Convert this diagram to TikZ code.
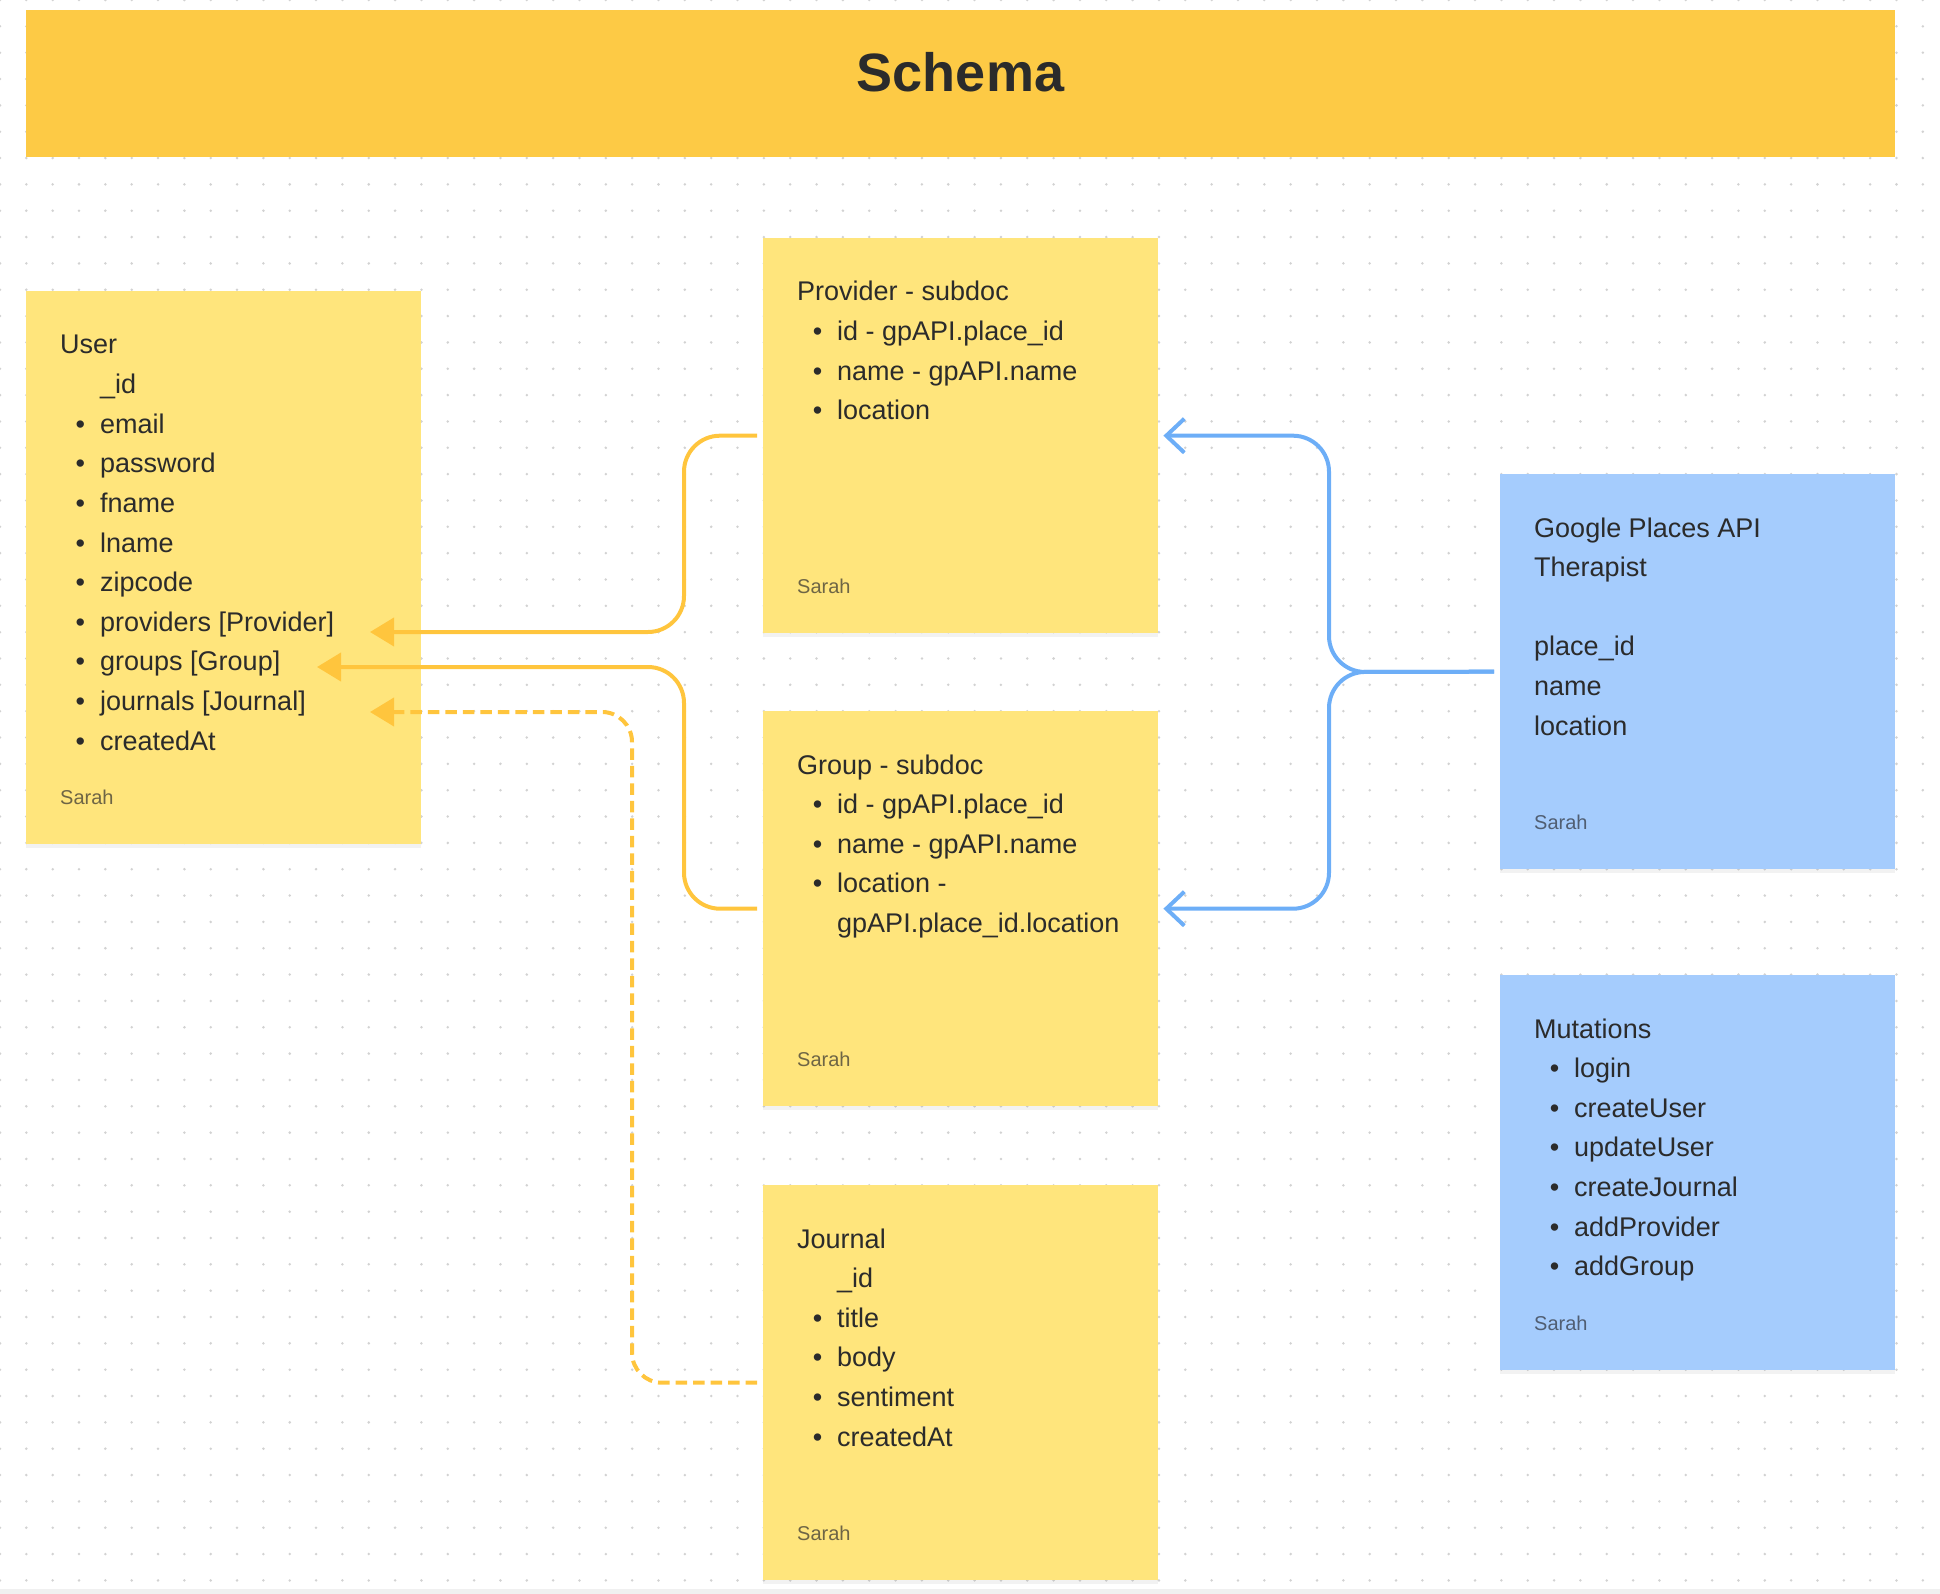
\documentclass[tikz,border=0pt]{standalone}
\usepackage{fontspec}
\setmainfont{Liberation Sans}
\usepackage{tikz}
\usetikzlibrary{arrows.meta,positioning,calc,shadows}
\usepackage{xcolor}

\definecolor{barorange}{HTML}{FDCA45}
\definecolor{noteyellow}{HTML}{FFE57C}
\definecolor{noteblue}{HTML}{A5CCFD}
\definecolor{linkyellow}{HTML}{FFC53D}
\definecolor{linkblue}{HTML}{6DAEF7}
\definecolor{ink}{HTML}{2B2B2B}
\definecolor{signy}{HTML}{6E6545}
\definecolor{signb}{HTML}{505E72}
\definecolor{griddot}{HTML}{D2D2D2}

\newcommand{\bul}{\hspace*{40pt}\llap{\textbullet\hspace{15pt}}}
\newcommand{\ind}{\hspace*{40pt}}

\tikzset{
  note/.style={anchor=north west,minimum width=395pt,minimum height=395pt,inner sep=0pt,
    drop shadow={shadow xshift=0pt,shadow yshift=-4pt,opacity=0.10}},
  ynote/.style={note,fill=noteyellow},
  bnote/.style={note,fill=noteblue},
  txt/.style={anchor=base west,inner sep=0pt,text=ink,font=\fontsize{27}{32}\selectfont},
  sign/.style={anchor=base west,inner sep=0pt,font=\fontsize{20}{24}\selectfont},
  ylink/.style={draw=linkyellow,line width=4pt,rounded corners=36pt,-{Triangle[length=24pt,width=28pt]}},
  dlink/.style={ylink,rounded corners=30pt,dash pattern=on 11.5pt off 6pt},
  blink/.style={draw=linkblue,line width=4pt,rounded corners=36pt,-{Straight Barb[length=18pt,width=34pt]}},
}

\begin{document}
\begin{tikzpicture}[x=1pt,y=-1pt]
  \useasboundingbox (0,0) rectangle (1940,1594);
  % dotted canvas
  \foreach \i in {0,...,73}
    \foreach \j in {0,...,60}
      \fill[griddot] (26.34*\i,26.34*\j) circle (1.4pt);
  \fill[gray!12] (0,1589) rectangle (1940,1594);

  % title bar
  \node[fill=barorange,anchor=north west,minimum width=1869pt,minimum height=147pt,inner sep=0pt] (bar) at (26,10) {};
  \node[text=ink,font=\bfseries\fontsize{54}{60}\selectfont] (title) at (960.5,72) {Schema};

  % sticky notes
  \node[ynote,minimum height=553pt] (user) at (26,291) {};
  \node[ynote] (provider) at (763,238) {};
  \node[ynote] (group) at (763,711) {};
  \node[ynote] (journal) at (763,1185) {};
  \node[bnote] (gapi) at (1500,474) {};
  \node[bnote] (mutations) at (1500,975) {};

  \foreach \txt [count=\i from 0] in {User,\ind\_id,\bul email,\bul password,\bul fname,\bul lname,
      \bul zipcode,\bul providers [Provider],\bul groups [Group],\bul journals [Journal],\bul createdAt}
    \node[txt] (user-\i) at ($(user.north west)+(34,63+39.6*\i)$) {\txt};
  \node[sign,text=signy] (user-s) at ($(user.south west)+(34,-40)$) {Sarah};

  \foreach \txt [count=\i from 0] in {Provider - subdoc,\bul id - gpAPI.place\_id,\bul name - gpAPI.name,\bul location}
    \node[txt] (provider-\i) at ($(provider.north west)+(34,63+39.6*\i)$) {\txt};
  \node[sign,text=signy] (provider-s) at ($(provider.south west)+(34,-40)$) {Sarah};

  \foreach \txt [count=\i from 0] in {Group - subdoc,\bul id - gpAPI.place\_id,\bul name - gpAPI.name,
      \bul location -,\ind gpAPI.place\_id.location}
    \node[txt] (group-\i) at ($(group.north west)+(34,63+39.6*\i)$) {\txt};
  \node[sign,text=signy] (group-s) at ($(group.south west)+(34,-40)$) {Sarah};

  \foreach \txt [count=\i from 0] in {Journal,\ind\_id,\bul title,\bul body,\bul sentiment,\bul createdAt}
    \node[txt] (journal-\i) at ($(journal.north west)+(34,63+39.6*\i)$) {\txt};
  \node[sign,text=signy] (journal-s) at ($(journal.south west)+(34,-40)$) {Sarah};

  \foreach \txt [count=\i from 0] in {Google Places API,Therapist,{},place\_id,name,location}
    \node[txt] (gapi-\i) at ($(gapi.north west)+(34,63+39.6*\i)$) {\txt};
  \node[sign,text=signb] (gapi-s) at ($(gapi.south west)+(34,-40)$) {Sarah};

  \foreach \txt [count=\i from 0] in {Mutations,\bul login,\bul createUser,\bul updateUser,
      \bul createJournal,\bul addProvider,\bul addGroup}
    \node[txt] (mutations-\i) at ($(mutations.north west)+(34,63+39.6*\i)$) {\txt};
  \node[sign,text=signb] (mutations-s) at ($(mutations.south west)+(34,-40)$) {Sarah};

  % connectors
  \coordinate (prov-in) at (370,632);
  \coordinate (grp-in) at (317,667);
  \coordinate (jrn-in) at (370,712);
  \coordinate (ybus) at (684,0);
  \coordinate (jbus) at (632,0);
  \coordinate (fork) at (1329,672);

  \draw[ylink] ([xshift=-6pt]provider.west) -| (ybus |- prov-in) -- (prov-in);
  \draw[ylink] ([xshift=-6pt]group.west) -| (ybus |- grp-in) -- (grp-in);
  \draw[dlink] ([xshift=-6pt]journal.west) -| (jbus |- jrn-in) -- (jrn-in);
  \draw[blink] ([xshift=-6pt]gapi.west) -- (fork) |- ([xshift=5pt]provider.east);
  \draw[blink] ([xshift=-6pt]gapi.west) -- (fork) |- ([xshift=5pt]group.east);
\end{tikzpicture}
\end{document}
